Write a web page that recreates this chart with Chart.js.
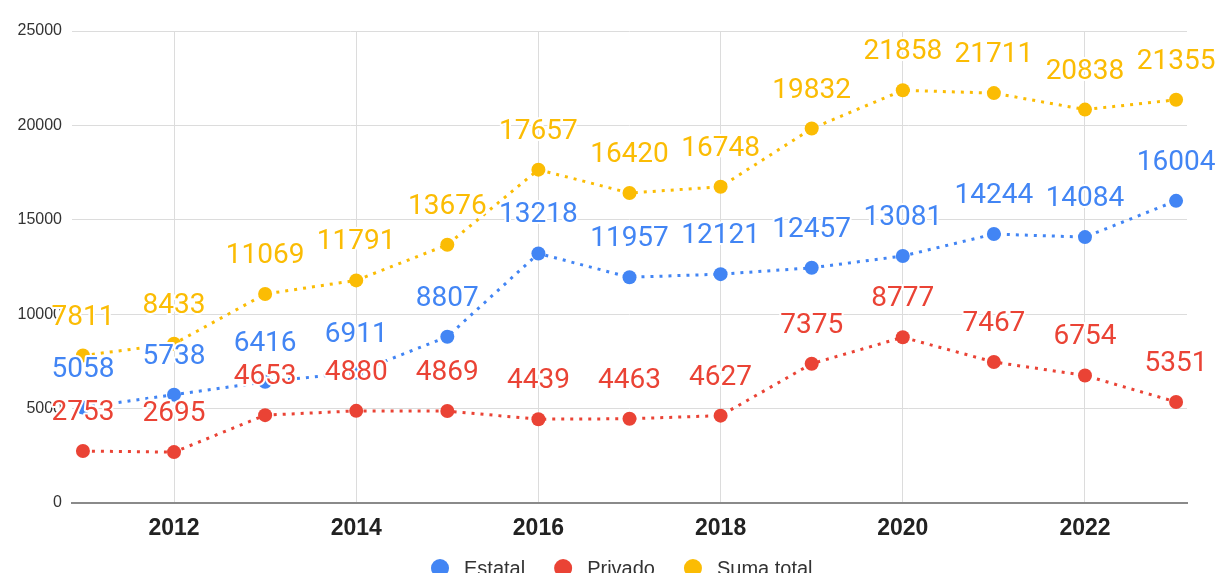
<!DOCTYPE html>
<html><head><meta charset="utf-8">
<script src="https://cdn.jsdelivr.net/npm/chart.js@4"></script>
<style>html,body{margin:0;padding:0;overflow:hidden;background:#fff}#wrap{width:1222px;height:573px}</style>
</head><body><div id="wrap"><canvas id="c" width="1222" height="573"></canvas></div>
<script>
const years = [2011,2012,2013,2014,2015,2016,2017,2018,2019,2020,2021,2022,2023];
const estatal = [5058,5738,6416,6911,8807,13218,11957,12121,12457,13081,14244,14084,16004];
const privado = [2753,2695,4653,4880,4869,4439,4463,4627,7375,8777,7467,6754,5351];
const suma = [7811,8433,11069,11791,13676,17657,16420,16748,19832,21858,21711,20838,21355];
const xTicks = [2012,2014,2016,2018,2020,2022];
const yTicks = [0,5000,10000,15000,20000,25000];

const BLUE='#4285F4', RED='#EA4335', YEL='#FBBC04';
function ds(label, vals, color){
  return {label, data: years.map((y,i)=>({x:y,y:vals[i]})), borderColor:color, backgroundColor:color,
    borderWidth:3, borderDash:[3,6], pointRadius:7, pointHoverRadius:7, pointBorderWidth:0, tension:0};
}
const labelPlugin = {
  id:'lbls',
  afterDatasetsDraw(chart){
    const ctx = chart.ctx;
    ctx.save();
    ctx.font = '28px Roboto';
    ctx.textAlign='center'; ctx.textBaseline='middle';
    chart.data.datasets.forEach((d,di)=>{
      const meta = chart.getDatasetMeta(di);
      meta.data.forEach((pt,i)=>{
        const t = String(d.data[i].y);
        ctx.lineWidth = 4; ctx.strokeStyle='#fff'; ctx.lineJoin='round';
        ctx.strokeText(t, pt.x, pt.y-38);
        ctx.fillStyle = d.borderColor;
        ctx.fillText(t, pt.x, pt.y-38);
      });
    });
    ctx.restore();
  }
};
const legendPlugin = {
  id:'myLegend',
  afterDraw(chart){
    const ctx = chart.ctx;
    ctx.save();
    ctx.font = '20px Arial';
    const r = 9, gapText = 24, gapNext = 38;
    let x = 440;
    chart.data.datasets.forEach((d)=>{
      ctx.fillStyle = d.borderColor;
      ctx.beginPath(); ctx.arc(x, 568, r, 0, Math.PI*2); ctx.fill();
      ctx.fillStyle = '#333'; ctx.textAlign='left'; ctx.textBaseline='alphabetic';
      const tx = x + gapText;
      ctx.fillText(d.label, tx, 575);
      x = tx + ctx.measureText(d.label).width + gapNext;
    });
    ctx.restore();
  }
};
new Chart(document.getElementById('c'), {
  type:'line',
  data:{datasets:[ds('Estatal',estatal,BLUE), ds('Privado',privado,RED), ds('Suma total',suma,YEL)]},
  options:{
    responsive:false, animation:false,
    layout:{padding:{left:0,right:35,top:31,bottom:26}},
    plugins:{ tooltip:{enabled:false}, legend:{display:false} },
    scales:{
      x:{type:'linear', min:2010.88, max:2023.12,
        afterBuildTicks(s){ s.ticks = xTicks.map(v=>({value:v})); },
        afterFit(s){ s.height = 44; },
        grid:{color:'#dcdcdc', drawTicks:false, lineWidth:1},
        border:{display:true, color:'#8a8a8a', width:2},
        ticks:{padding:12, color:'#222', font:{size:23, weight:'bold', family:'Arial'}, callback:v=>String(v), maxRotation:0}
      },
      y:{min:0, max:25000,
        afterBuildTicks(s){ s.ticks = yTicks.map(v=>({value:v})); },
        afterFit(s){ s.width = 72; },
        grid:{color:'#dcdcdc', drawTicks:false},
        border:{display:false},
        ticks:{padding:10, color:'#333', font:{size:16, family:'Arial'}, callback:v=>String(v)}
      }
    }
  },
  plugins:[labelPlugin, legendPlugin]
});
</script></body></html>
